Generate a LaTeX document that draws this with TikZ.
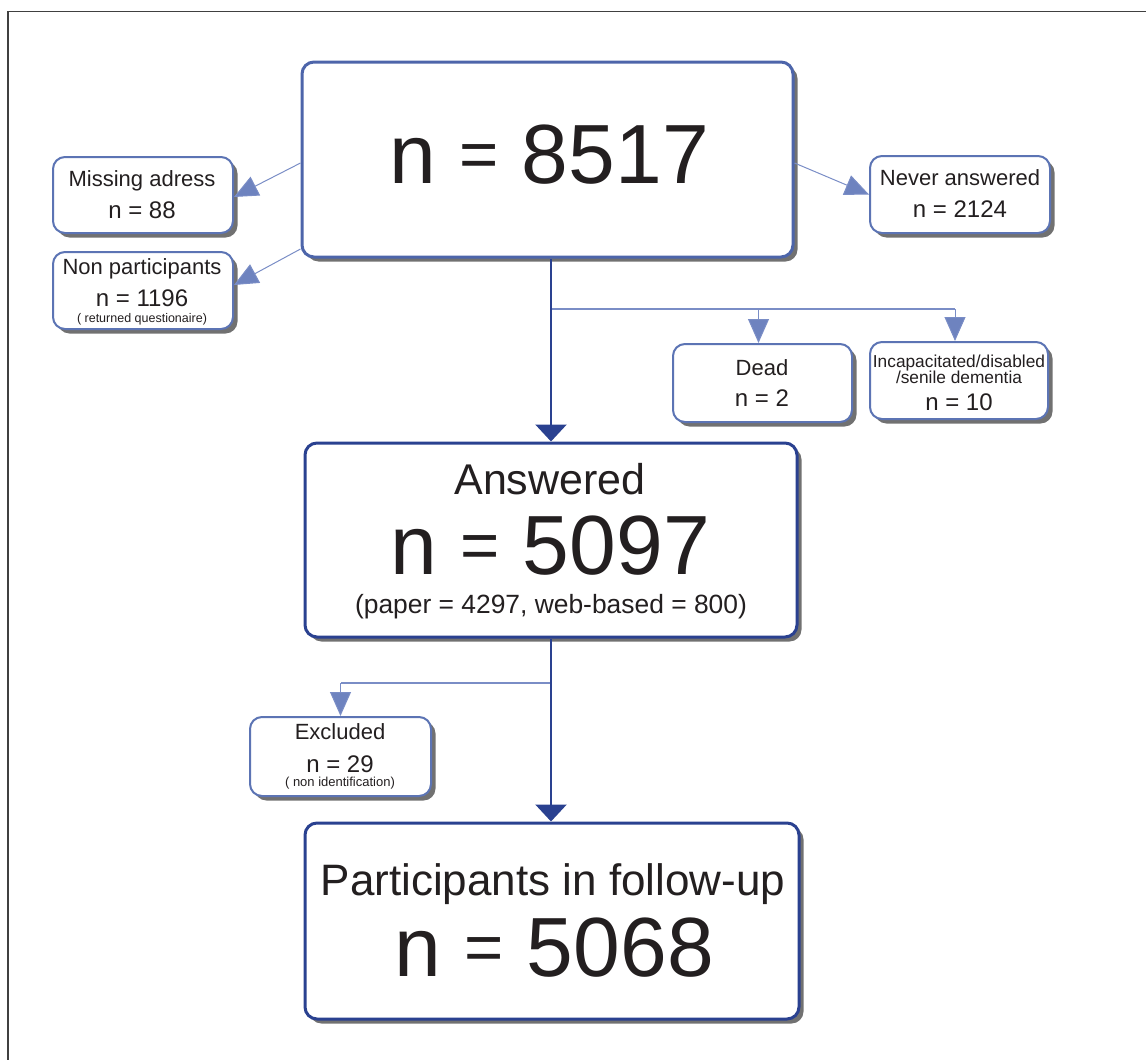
\documentclass[tikz,border=0pt]{standalone}
\usepackage{fontspec}
\usepackage{graphicx}
\setmainfont{Liberation Sans}
\usetikzlibrary{arrows.meta,shadows,calc}
\definecolor{txt}{HTML}{231F20}
\definecolor{lightb}{HTML}{5C74B4}
\definecolor{lineb}{HTML}{7A8DC6}
\definecolor{headb}{HTML}{6E83BF}
\definecolor{midb}{HTML}{4D65AA}
\definecolor{darkb}{HTML}{2A4190}
\definecolor{shade}{HTML}{626262}
\newcommand{\smeq}{\raisebox{0.07em}{\scalebox{0.8}{=}}}
\tikzset{
  boxshadow/.style={drop shadow={shadow xshift=4.5pt,shadow yshift=-4.5pt,fill=shade,opacity=0.9}},
  smallbox/.style={draw=lightb,line width=2pt,rounded corners=12pt,fill=white,boxshadow,inner sep=0pt},
  topbox/.style={draw=midb,line width=3pt,rounded corners=12pt,fill=white,boxshadow,inner sep=0pt},
  bigbox/.style={draw=darkb,line width=3pt,rounded corners=12pt,fill=white,boxshadow,inner sep=0pt},
  lbl/.style={anchor=base,inner sep=0pt,text=txt},
  thinarrow/.style={draw=lineb,line width=1pt,-{Triangle[length=24pt,width=21pt,fill=headb]}},
  thinline/.style={draw=lineb,line width=1.2pt},
  darkarrow/.style={draw=darkb,line width=2.5pt,-{Triangle[length=17pt,width=31pt]}},
}
\begin{document}
\begin{tikzpicture}[x=1pt,y=-1pt]
\useasboundingbox (0,0) rectangle (1146,1060);
\draw[black!75,line width=1.5pt] (8,1060) -- (8,11.5) -- (1146,11.5);

% boxes
\node[topbox,minimum width=491pt,minimum height=195pt] (top) at (547.5,159.5) {};
\node[smallbox,minimum width=180pt,minimum height=76pt] (miss) at (143,195) {};
\node[smallbox,minimum width=180pt,minimum height=77pt] (nonp) at (143,290.5) {};
\node[smallbox,minimum width=180pt,minimum height=77pt] (never) at (960,194.5) {};
\node[smallbox,minimum width=179pt,minimum height=78pt] (dead) at (762.5,383) {};
\node[smallbox,minimum width=178pt,minimum height=77pt] (incap) at (959,380.5) {};
\node[bigbox,minimum width=492pt,minimum height=194pt] (ans) at (551,540) {};
\node[smallbox,minimum width=181pt,minimum height=79pt] (excl) at (340.5,756.5) {};
\node[bigbox,minimum width=494pt,minimum height=196pt] (part) at (552,921) {};

% texts
\node[lbl,font=\fontsize{84}{84}\selectfont] (ttop) at (549,183) {n \smeq{} 8517};
\node[lbl,font=\fontsize{22}{22}\selectfont] (tmiss1) at (142,186) {Missing adress};
\node[lbl,font=\fontsize{24}{24}\selectfont] (tmiss2) at (142,218) {n = 88};
\node[lbl,font=\fontsize{22}{22}\selectfont] (tnonp1) at (142,274) {Non participants};
\node[lbl,font=\fontsize{24}{24}\selectfont] (tnonp2) at (142,306) {n = 1196};
\node[lbl,font=\fontsize{12.5}{13}\selectfont] (tnonp3) at (142,322) {( returned questionaire)};
\node[lbl,font=\fontsize{22}{22}\selectfont] (tnever1) at (960,185) {Never answered};
\node[lbl,font=\fontsize{24}{24}\selectfont] (tnever2) at (960,217) {n = 2124};
\node[lbl,font=\fontsize{22}{22}\selectfont] (tdead1) at (762,375) {Dead};
\node[lbl,font=\fontsize{24}{24}\selectfont] (tdead2) at (762,406) {n = 2};
\node[lbl,font=\fontsize{17.3}{18}\selectfont] (tinc1) at (959,367) {Incapacitated/disabled};
\node[lbl,font=\fontsize{17.3}{18}\selectfont] (tinc2) at (959,383) {/senile dementia};
\node[lbl,font=\fontsize{24}{24}\selectfont] (tinc3) at (959,410) {n = 10};
\node[lbl,font=\fontsize{43}{43}\selectfont] (tans1) at (550,494) {Answered};
\node[lbl,font=\fontsize{84}{84}\selectfont] (tans2) at (550,574) {n \smeq{} 5097};
\node[lbl,font=\fontsize{26.4}{27}\selectfont] (tans3) at (551,613) {(paper = 4297, web-based = 800)};
\node[lbl,font=\fontsize{22}{22}\selectfont] (texc1) at (340,739) {Excluded};
\node[lbl,font=\fontsize{24}{24}\selectfont] (texc2) at (340,772) {n = 29};
\node[lbl,font=\fontsize{13}{13}\selectfont] (texc3) at (340,786) {( non identification)};
\node[lbl,font=\fontsize{44}{44}\selectfont] (tpart1) at (553,895) {Participants in follow-up};
\node[lbl,font=\fontsize{84}{84}\selectfont] (tpart2) at (554,976) {n \smeq{} 5068};

% connectors
\draw[thinarrow] ([yshift=-3.5pt]top.west) -- ([yshift=-2pt]miss.east);
\draw[thinarrow] ([yshift=-89.5pt]top.west) -- ([yshift=5.5pt]nonp.east);
\draw[thinarrow] ([yshift=-3.5pt]top.east) -- (never.west);

\coordinate (br1) at (551,309);
\coordinate (br2) at (551,683);
\draw[thinline] (br1) -- ([xshift=-4pt]incap.north |- br1);
\draw[thinarrow] ([xshift=-4pt]dead.north |- br1) -- ([xshift=-4pt]dead.north);
\draw[thinarrow] ([xshift=-4pt]incap.north |- br1) -- ([xshift=-4pt]incap.north);
\draw[thinline] (br2) -- (excl.north |- br2);
\draw[thinarrow] (excl.north |- br2) -- (excl.north);

\draw[darkarrow] (ans.north |- top.south) -- (ans.north);
\draw[darkarrow] (ans.south) -- (ans.south |- part.north);
\end{tikzpicture}
\end{document}
